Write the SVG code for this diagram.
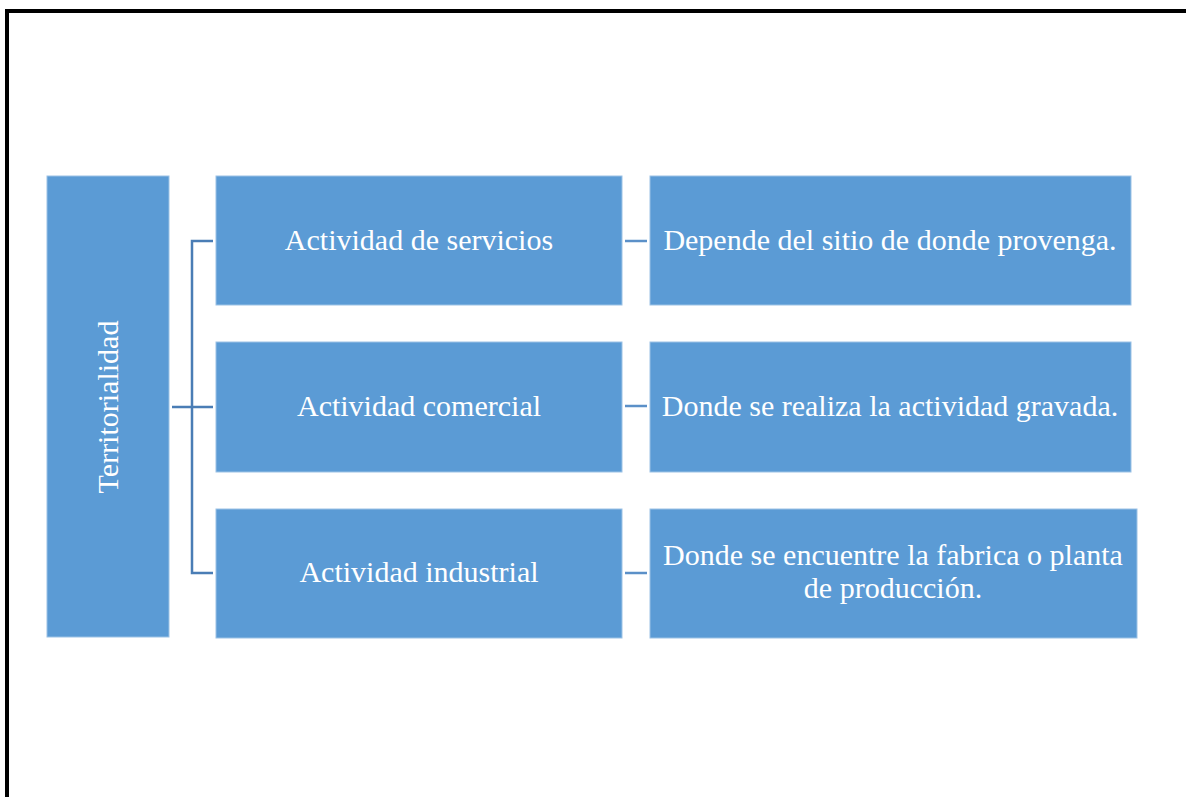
<svg xmlns="http://www.w3.org/2000/svg" width="1186" height="797" viewBox="0 0 1186 797">
  <style>
    .box { fill: #5B9BD5; stroke: #9CC2E5; stroke-width: 1; }
    .lbl { font-family: "Liberation Serif", "Times New Roman", serif; font-size: 30px; fill: #ffffff; text-anchor: middle; }
    .brk { fill: none; stroke: #4A7DB5; stroke-width: 2.5; }
    .lnk { fill: none; stroke: #5B90C8; stroke-width: 2.5; }
  </style>
  <rect x="0" y="0" width="1186" height="797" fill="#ffffff"/>
  <g id="frame">
    <path d="M7 797 V11 H1186" fill="none" stroke="#000000" stroke-width="4"/>
  </g>
  <g id="connectors">
    <path class="brk" d="M213 241 H192 V573 H213 M172 407 H213"/>
    <path class="lnk" d="M625 241 H647"/>
    <path class="lnk" d="M625 406 H647"/>
    <path class="lnk" d="M625 573 H647"/>
  </g>
  <g id="root">
    <rect class="box" x="47" y="176" width="122" height="461"/>
    <text class="lbl" transform="translate(118 407) rotate(-90)" x="0" y="0">Territorialidad</text>
  </g>
  <g id="servicios">
    <rect class="box" x="216" y="176" width="406" height="129"/>
    <text class="lbl" x="419" y="250">Actividad de servicios</text>
  </g>
  <g id="comercial">
    <rect class="box" x="216" y="342" width="406" height="130"/>
    <text class="lbl" x="419" y="416">Actividad comercial</text>
  </g>
  <g id="industrial">
    <rect class="box" x="216" y="509" width="406" height="129"/>
    <text class="lbl" x="419" y="582">Actividad industrial</text>
  </g>
  <g id="servicios-desc">
    <rect class="box" x="650" y="176" width="481" height="129"/>
    <text class="lbl" x="890" y="250">Depende del sitio de donde provenga.</text>
  </g>
  <g id="comercial-desc">
    <rect class="box" x="650" y="342" width="481" height="130"/>
    <text class="lbl" x="890" y="416">Donde se realiza la actividad gravada.</text>
  </g>
  <g id="industrial-desc">
    <rect class="box" x="650" y="509" width="487" height="129"/>
    <text class="lbl" x="893" y="565">Donde se encuentre la fabrica o planta</text>
    <text class="lbl" x="893" y="598">de producción.</text>
  </g>
</svg>
